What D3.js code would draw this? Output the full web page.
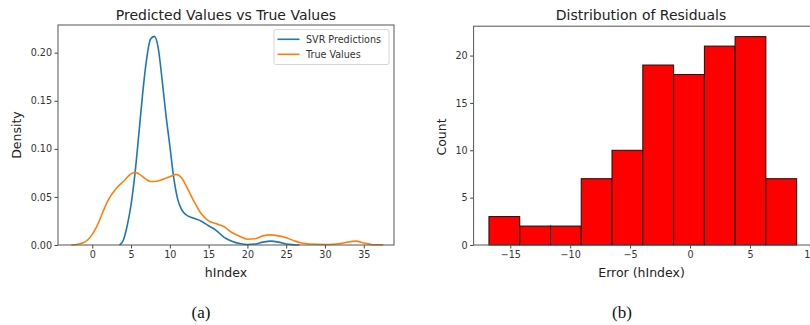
<!DOCTYPE html>
<html>
<head>
<meta charset="utf-8">
<script src="https://cdn.jsdelivr.net/npm/d3@7"></script>
<style>
  body { margin: 0; background: #fff; }
  svg text { font-family: "DejaVu Sans", sans-serif; }
</style>
</head>
<body>
<svg id="chart" width="810" height="325"></svg>
<script>
// KDE curves (hIndex, density)
const svrX = [3.5, 4, 4.5, 5, 5.5, 6, 6.5, 7, 7.5, 8, 8.5, 9, 9.5, 10, 10.5, 11, 11.5, 12, 13, 14, 15, 16, 17, 18, 19, 20, 21, 22, 23, 24, 25, 26, 26.7];
const svrY = [0, 0.005, 0.020, 0.042, 0.074, 0.115, 0.158, 0.193, 0.214, 0.217, 0.205, 0.172, 0.135, 0.103, 0.070, 0.048, 0.037, 0.032, 0.028, 0.025, 0.020, 0.015, 0.008, 0.004, 0.0015, 0.0005, 0.001, 0.003, 0.004, 0.003, 0.001, 0.0003, 0];

const trueX = [-2.7, -2, -1.5, -1, -0.5, 0, 0.5, 1, 1.5, 2, 3, 4, 5, 5.5, 6, 7, 7.5, 8, 9, 10, 10.8, 11.5, 12, 13, 14, 15, 16, 17, 18, 19, 20, 21, 22, 23, 24, 25, 26, 27, 28, 30, 31, 32, 33, 34, 35, 36, 37, 37.5];
const trueY = [0, 0.0005, 0.0015, 0.003, 0.006, 0.011, 0.018, 0.027, 0.037, 0.046, 0.058, 0.066, 0.074, 0.0755, 0.074, 0.068, 0.066, 0.066, 0.068, 0.071, 0.0735, 0.070, 0.063, 0.047, 0.033, 0.025, 0.022, 0.019, 0.013, 0.009, 0.006, 0.0065, 0.0095, 0.0105, 0.0095, 0.0075, 0.0045, 0.002, 0.001, 0.0005, 0.0008, 0.0015, 0.0032, 0.004, 0.002, 0.0006, 0.0002, 0];

const seriesNames = ["SVR Predictions", "True Values"];
const seriesColors = ["#1f77b4", "#ff7f0e"];

// residual histogram
const binEdges = [-16.78, -14.21, -11.64, -9.08, -6.51, -3.94, -1.37, 1.20, 3.76, 6.33, 8.90];
const binCounts = [3, 2, 2, 7, 10, 19, 18, 21, 22, 7];

const kdeXTicks = [0, 5, 10, 15, 20, 25, 30, 35];
const kdeYTicks = [0, 0.05, 0.10, 0.15, 0.20];
const histXTicks = [-15, -10, -5, 0, 5, 10];
const histYTicks = [0, 5, 10, 15, 20];

const svg = d3.select("#chart");
const minus = s => s.replace("-", "\u2212");

function frame(g, x, y, xTicks, yTicks, yFmt) {
  const [x0, x1] = x.range();
  const [y0, y1] = y.range();
  g.append("g")
    .attr("transform", `translate(0,${y0})`)
    .call(d3.axisBottom(x).tickValues(xTicks).tickSize(3.5).tickPadding(2.5).tickFormat(d => minus(String(d))))
    .call(a => a.select(".domain").remove());
  g.append("g")
    .attr("transform", `translate(${x0},0)`)
    .call(d3.axisLeft(y).tickValues(yTicks).tickSize(3.5).tickPadding(2.5).tickFormat(yFmt))
    .call(a => a.select(".domain").remove());
  g.selectAll(".tick line").attr("stroke", "#444");
  g.selectAll(".tick text").attr("fill", "#333").style("font-size", "9.6px");
  g.append("rect")
    .attr("x", x0).attr("y", y1)
    .attr("width", x1 - x0).attr("height", y0 - y1)
    .attr("fill", "none").attr("stroke", "#555").attr("stroke-width", 1);
}

// ---- left panel: KDE ----
const kx = d3.scaleLinear().domain([-4.42, 38.9]).range([58, 394]);
const ky = d3.scaleLinear().domain([0, 0.2288]).range([245, 25]);
const left = svg.append("g");

const line = d3.line()
  .x(d => kx(d[0]))
  .y(d => ky(d[1]))
  .curve(d3.curveMonotoneX);

const series = [d3.zip(svrX, svrY), d3.zip(trueX, trueY)];
left.append("g")
  .selectAll("path")
  .data(series)
  .join("path")
  .attr("d", line)
  .attr("fill", "none")
  .attr("stroke", (d, i) => seriesColors[i])
  .attr("stroke-width", 1.6);

frame(left, kx, ky, kdeXTicks, kdeYTicks, d3.format(".2f"));

left.append("text")
  .attr("x", 226).attr("y", 20)
  .attr("text-anchor", "middle")
  .style("font-size", "14px").attr("fill", "#222")
  .text("Predicted Values vs True Values");
left.append("text")
  .attr("x", 226).attr("y", 277)
  .attr("text-anchor", "middle")
  .style("font-size", "12.5px").attr("fill", "#222")
  .text("hIndex");
left.append("text")
  .attr("transform", "translate(21,135) rotate(-90)")
  .attr("text-anchor", "middle")
  .style("font-size", "12.5px").attr("fill", "#222")
  .text("Density");

// legend
const legend = left.append("g");
legend.append("rect")
  .attr("x", 274).attr("y", 29.5).attr("width", 115).attr("height", 35)
  .attr("rx", 2).attr("fill", "#fff").attr("stroke", "#d6d6d6");
seriesNames.forEach((name, i) => {
  const yy = 39.3 + i * 15;
  legend.append("line")
    .attr("x1", 277.5).attr("x2", 299.5).attr("y1", yy).attr("y2", yy)
    .attr("stroke", seriesColors[i]).attr("stroke-width", 1.6);
  legend.append("text")
    .attr("x", 306).attr("y", yy + 3.4)
    .style("font-size", "9.6px").attr("fill", "#333")
    .text(name);
});

// ---- right panel: histogram ----
const hx = d3.scaleLinear().domain([-18.06, 10.18]).range([473.6, 812]);
const hy = d3.scaleLinear().domain([0, 23.1]).range([245, 26.2]);
const right = svg.append("g");

right.append("g")
  .selectAll("rect")
  .data(binCounts)
  .join("rect")
  .attr("x", (d, i) => hx(binEdges[i]))
  .attr("width", (d, i) => hx(binEdges[i + 1]) - hx(binEdges[i]))
  .attr("y", d => hy(d))
  .attr("height", d => hy(0) - hy(d))
  .attr("fill", "#ff0000")
  .attr("stroke", "#111")
  .attr("stroke-width", 1);

frame(right, hx, hy, histXTicks, histYTicks, d => String(d));

right.append("text")
  .attr("x", 641).attr("y", 20)
  .attr("text-anchor", "middle")
  .style("font-size", "14px").attr("fill", "#222")
  .text("Distribution of Residuals");
right.append("text")
  .attr("x", 641.5).attr("y", 277)
  .attr("text-anchor", "middle")
  .style("font-size", "12.5px").attr("fill", "#222")
  .text("Error (hIndex)");
right.append("text")
  .attr("transform", "translate(446,137) rotate(-90)")
  .attr("text-anchor", "middle")
  .style("font-size", "12.5px").attr("fill", "#222")
  .text("Count");

// sub-figure captions
svg.selectAll("text.caption")
  .data([["(a)", 201], ["(b)", 622]])
  .join("text")
  .attr("class", "caption")
  .attr("x", d => d[1]).attr("y", 318)
  .attr("text-anchor", "middle")
  .style("font-family", "'Liberation Serif', 'Times New Roman', serif")
  .style("font-size", "17px").attr("fill", "#111")
  .text(d => d[0]);
</script>
</body>
</html>
